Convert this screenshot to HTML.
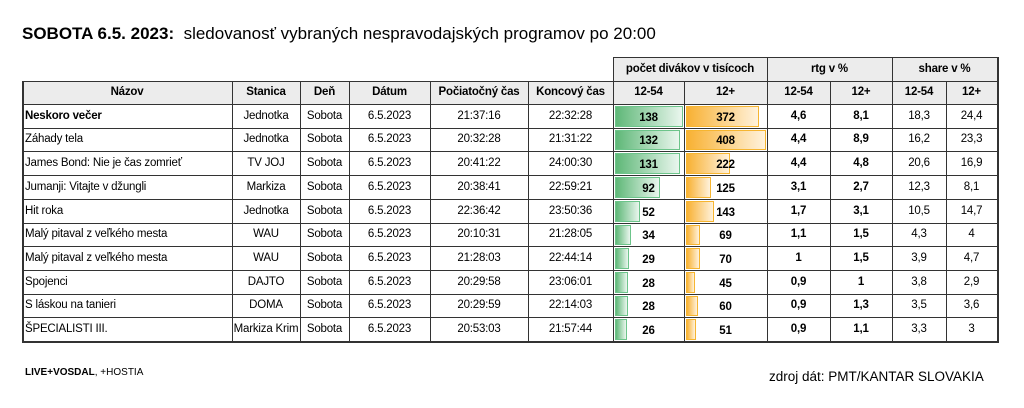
<!DOCTYPE html>
<html><head><meta charset="utf-8"><style>
body{margin:0;width:1024px;height:408px;background:#fff;font-family:"Liberation Sans",sans-serif;position:relative;overflow:hidden;color:#000}
.a{position:absolute}
.c{position:absolute;font-size:11.5px;text-align:center;white-space:nowrap;overflow:hidden;letter-spacing:-0.2px}
.hl{position:absolute;height:1px;background:#333}
.vl{position:absolute;width:1px;background:#333}
.gb{position:absolute;background:linear-gradient(to right,#5fb878,#eaf6ee);border:1px solid #6cc48a;box-sizing:border-box}
.ob{position:absolute;background:linear-gradient(to right,#f8b133,#fff2dc);border:1px solid #f6b530;box-sizing:border-box}
</style></head><body>
<div class="a" style="left:22px;top:24px;font-size:17px;white-space:nowrap"><b>SOBOTA 6.5. 2023:</b>&nbsp; sledovanosť vybraných nespravodajských programov po 20:00</div>
<div class="a" style="left:22px;top:81px;width:591px;height:23px;background:#ececec"></div>
<div class="a" style="left:613px;top:57px;width:384px;height:47px;background:#ececec"></div>
<div id="g"></div>
<div class="a" style="left:25px;top:367px;font-size:10px"><b>LIVE+VOSDAL</b>, +HOSTIA</div>
<div class="a" style="left:769px;top:369px;font-size:13.5px;white-space:nowrap">zdroj dát: PMT/KANTAR SLOVAKIA</div>
<script>
var X=[22,232,300,349,430,528,613,684,767,830,892,946,997];
var rows=[
["Neskoro večer","Jednotka","Sobota","6.5.2023","21:37:16","22:32:28",138,372,"4,6","8,1","18,3","24,4"],
["Záhady tela","Jednotka","Sobota","6.5.2023","20:32:28","21:31:22",132,408,"4,4","8,9","16,2","23,3"],
["James Bond: Nie je čas zomrieť","TV JOJ","Sobota","6.5.2023","20:41:22","24:00:30",131,222,"4,4","4,8","20,6","16,9"],
["Jumanji: Vitajte v džungli","Markiza","Sobota","6.5.2023","20:38:41","22:59:21",92,125,"3,1","2,7","12,3","8,1"],
["Hit roka","Jednotka","Sobota","6.5.2023","22:36:42","23:50:36",52,143,"1,7","3,1","10,5","14,7"],
["Malý pitaval z veľkého mesta","WAU","Sobota","6.5.2023","20:10:31","21:28:05",34,69,"1,1","1,5","4,3","4"],
["Malý pitaval z veľkého mesta","WAU","Sobota","6.5.2023","21:28:03","22:44:14",29,70,"1","1,5","3,9","4,7"],
["Spojenci","DAJTO","Sobota","6.5.2023","20:29:58","23:06:01",28,45,"0,9","1","3,8","2,9"],
["S láskou na tanieri","DOMA","Sobota","6.5.2023","20:29:59","22:14:03",28,60,"0,9","1,3","3,5","3,6"],
["ŠPECIALISTI III.","Markiza Krim","Sobota","6.5.2023","20:53:03","21:57:44",26,51,"0,9","1,1","3,3","3"]];
var h="",top0=104,rh=23.7,bot=341;
function cell(x,w,y,hh,t,st){return '<div class="c" style="left:'+x+'px;width:'+w+'px;top:'+y+'px;height:'+hh+'px;line-height:'+hh+'px;'+(st||'')+'">'+t+'</div>';}
var hd=["Názov","Stanica","Deň","Dátum","Počiatočný čas","Koncový čas","12-54","12+","12-54","12+","12-54","12+"];
for(var i=0;i<12;i++)h+=cell(X[i],X[i+1]-X[i],81,23,hd[i],"font-weight:bold");
h+=cell(613,71+83,57,24,"počet divákov v tisícoch","font-weight:bold");
h+=cell(767,125,57,24,"rtg v %","font-weight:bold");
h+=cell(892,105,57,24,"share v %","font-weight:bold");
rows.forEach(function(r,k){
 var y=Math.round(top0+k*rh),y2=Math.round(top0+(k+1)*rh),hh=y2-y;
 for(var i=0;i<12;i++){
  var st="";
  if(i==0)st="text-align:left;padding-left:3px;box-sizing:border-box;"+(k==0?"font-weight:bold":"");
  if(i==6){var w=12+(r[6]-26)*0.5;h+='<div class="gb" style="left:615px;top:'+(y+2)+'px;width:'+w+'px;height:'+(hh-3)+'px"></div>';st="font-weight:bold;padding-top:2px;box-sizing:border-box";}
  if(i==7){var w=9+(r[7]-45)*0.196;h+='<div class="ob" style="left:686px;top:'+(y+2)+'px;width:'+w+'px;height:'+(hh-3)+'px"></div>';st="font-weight:bold;padding-top:2px;box-sizing:border-box";}
  if(i==8||i==9)st="font-weight:bold";
  h+=cell(X[i],X[i+1]-X[i],y,hh,r[i],st);
 }
 h+='<div class="hl" style="left:22px;width:975px;top:'+y+'px"></div>';
});
h+='<div class="hl" style="left:22px;width:975px;top:'+bot+'px;height:2px"></div>';
h+='<div class="hl" style="left:22px;width:591px;top:81px"></div>';
h+='<div class="hl" style="left:613px;width:384px;top:57px"></div>';
h+='<div class="hl" style="left:613px;width:384px;top:81px"></div>';
for(var i=0;i<13;i++){
 var t=81; if(i>=6&&(i==6||i==8||i==10||i==12))t=57;
 var w=(i==0||i==12)?2:1;
 h+='<div class="vl" style="left:'+X[i]+'px;top:'+t+'px;height:'+(bot+2-t)+'px;width:'+w+'px"></div>';
}
document.getElementById("g").innerHTML=h;
</script>
</body></html>
